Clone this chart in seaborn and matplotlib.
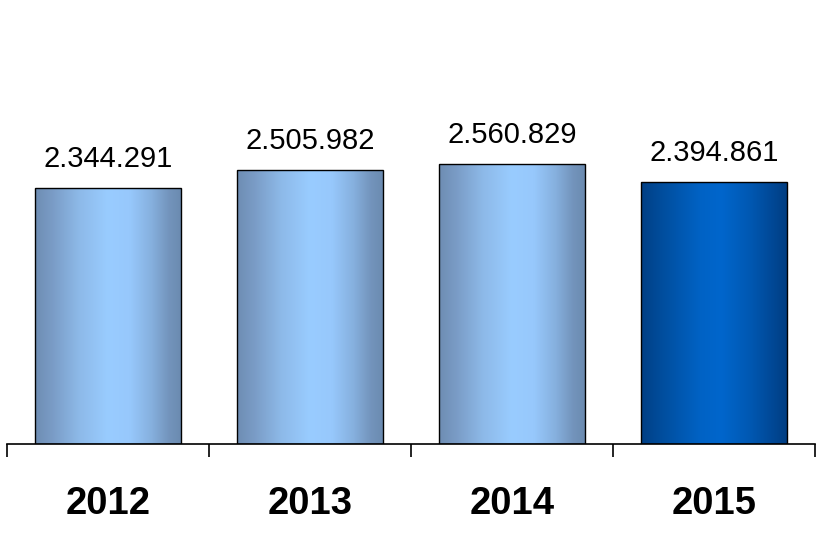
import numpy as np
import pandas as pd
import matplotlib
matplotlib.use("Agg")
import matplotlib.pyplot as plt
from matplotlib.colors import LinearSegmentedColormap
from matplotlib.ticker import FixedLocator
import seaborn as sns

years = ["2012", "2013", "2014", "2015"]
values = [2344291, 2505982, 2560829, 2394861]
labels = ["2.344.291", "2.505.982", "2.560.829", "2.394.861"]

sns.set_theme(style="white")
plt.rcParams["font.family"] = ["Liberation Sans", "DejaVu Sans"]

df = pd.DataFrame({"year": years, "value": values})

fig = plt.figure(figsize=(8.16, 5.44), dpi=100)
ax = fig.add_axes([7 / 816, 100 / 544, 808 / 816, 444 / 544])

sns.barplot(data=df, x="year", y="value", ax=ax, width=0.72,
            color="#88B8EE", edgecolor="black", linewidth=1.0, zorder=2)

light_cmap = LinearSegmentedColormap.from_list(
    "light",
    [(0.0, "#6E8DB3"), (0.12, "#7A9CC6"), (0.3, "#8DB9E8"), (0.5, "#99CCFF"),
     (0.65, "#97C8FC"), (0.8, "#86B0DE"), (0.92, "#7394BC"), (1.0, "#6B8BB0")])
dark_cmap = LinearSegmentedColormap.from_list(
    "dark",
    [(0.0, "#003F85"), (0.15, "#004E9E"), (0.4, "#0062C4"), (0.55, "#0066CC"),
     (0.75, "#0058B2"), (0.9, "#004896"), (1.0, "#003E82")])

grad = np.linspace(0, 1, 256).reshape(1, -1)
for i, patch in enumerate(ax.patches):
    x0, y0 = patch.get_x(), patch.get_y()
    w, h = patch.get_width(), patch.get_height()
    cmap = dark_cmap if i == len(ax.patches) - 1 else light_cmap
    im = ax.imshow(grad, extent=[x0, x0 + w, y0, y0 + h], aspect="auto",
                   cmap=cmap, zorder=2.5, interpolation="bicubic")
    im.set_clip_path(patch)
    patch.set_facecolor("none")
    patch.set_zorder(3)
    ax.annotate(labels[i], (x0 + w / 2, y0 + h), xytext=(0, 11),
                textcoords="offset points", ha="center", va="bottom",
                fontsize=21, color="black")

ax.set_xlim(-0.5, len(years) - 0.5)
ax.set_ylim(0, 4066000)
ax.set_xlabel("")
ax.set_ylabel("")
ax.set_yticks([])
for s in ["left", "right", "top"]:
    ax.spines[s].set_visible(False)
ax.spines["bottom"].set_color("black")
ax.spines["bottom"].set_linewidth(1.2)

ax.xaxis.set_minor_locator(FixedLocator(np.arange(-0.5, len(years), 1.0)))
ax.tick_params(axis="x", which="minor", bottom=True, length=9, width=1.2, color="black")
ax.tick_params(axis="x", which="major", bottom=True, length=0, pad=30,
               labelsize=27.5, colors="black")
for t in ax.get_xticklabels():
    t.set_fontweight("bold")

fig.savefig("out.png", dpi=100, facecolor="white")
